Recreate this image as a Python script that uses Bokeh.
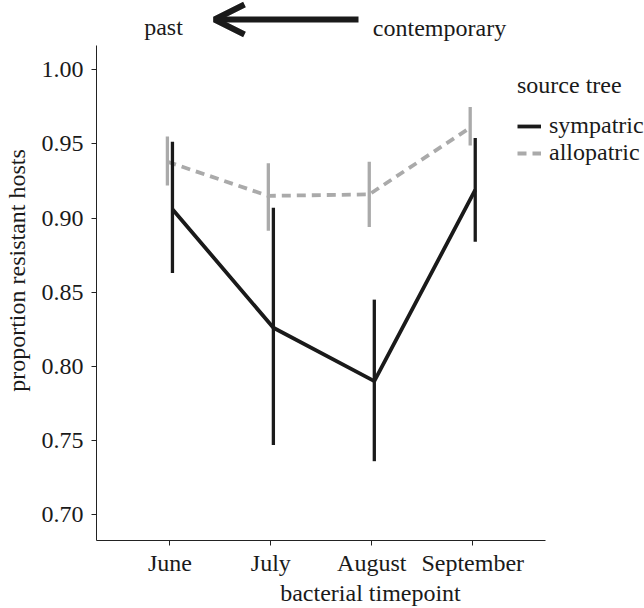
from bokeh.plotting import figure
from bokeh.models import (ColumnDataSource, Legend, LegendItem, Label, Arrow, OpenHead,
                          FixedTicker, NumeralTickFormatter, Range1d)
from bokeh.transform import dodge
from bokeh.embed import file_html
from bokeh.resources import INLINE

# ---- data ----
months = ["June", "July", "August", "September"]
sym_mean = [0.906, 0.826, 0.790, 0.919]
sym_lo = [0.863, 0.747, 0.736, 0.884]
sym_hi = [0.9515, 0.907, 0.845, 0.954]
allo_mean = [0.938, 0.915, 0.916, 0.961]
allo_lo = [0.922, 0.8915, 0.894, 0.949]
allo_hi = [0.955, 0.937, 0.938, 0.975]
y_ticks = [0.70, 0.75, 0.80, 0.85, 0.90, 0.95, 1.00]
series_labels = ["sympatric", "allopatric"]
legend_title = "source tree"
x_title = "bacterial timepoint"
y_title = "proportion resistant hosts"
header_left = "past"
header_right = "contemporary"

x_pos = list(range(1, len(months) + 1))

FONT = "Liberation Serif"
BLACK = "#1a1a1a"
GREY = "#aaaaaa"
TXT = "#1a1a1a"
FS = "24px"

src_sym = ColumnDataSource(dict(x=x_pos, mean=sym_mean, lo=sym_lo, hi=sym_hi))
src_allo = ColumnDataSource(dict(x=x_pos, mean=allo_mean, lo=allo_lo, hi=allo_hi))

p = figure(width=644, height=608, output_backend="svg", toolbar_location=None,
           x_range=Range1d(0.2725, 5.702), y_range=Range1d(0.6825, 1.0468),
           min_border_left=94, min_border_right=0, min_border_top=0, min_border_bottom=66)

p.outline_line_color = None
p.xgrid.grid_line_color = None
p.ygrid.grid_line_color = None
p.background_fill_color = "white"
p.border_fill_color = "white"

DX = 0.025  # dodge between the two series
p.segment(x0=dodge("x", -DX), y0="lo", x1=dodge("x", -DX), y1="hi",
          source=src_allo, line_color=GREY, line_width=3.3)
allo_line = p.line(x=dodge("x", -DX), y="mean", source=src_allo,
                   line_color=GREY, line_width=3.8, line_dash="9 6")
p.segment(x0=dodge("x", DX), y0="lo", x1=dodge("x", DX), y1="hi",
          source=src_sym, line_color=BLACK, line_width=3.3)
sym_line = p.line(x=dodge("x", DX), y="mean", source=src_sym,
                  line_color=BLACK, line_width=3.8)

# axes
for ax in (p.xaxis[0], p.yaxis[0]):
    ax.axis_line_color = "#222222"
    ax.axis_line_width = 1
    ax.major_tick_line_color = "#222222"
    ax.major_tick_out = 5
    ax.major_tick_in = 0
    ax.minor_tick_line_color = None
    ax.major_label_text_font = FONT
    ax.major_label_text_font_size = FS
    ax.major_label_text_color = TXT
    ax.axis_label_text_font = FONT
    ax.axis_label_text_font_size = FS
    ax.axis_label_text_font_style = "normal"
    ax.axis_label_text_color = TXT

p.yaxis.ticker = FixedTicker(ticks=y_ticks)
p.yaxis.formatter = NumeralTickFormatter(format="0.00")
p.yaxis.bounds = (0.6825, 1.0165)
p.yaxis.axis_label = y_title
p.yaxis.major_label_standoff = 8
p.yaxis.axis_label_standoff = 9

p.xaxis.ticker = FixedTicker(ticks=x_pos)
p.xaxis.major_label_overrides = {x: m for x, m in zip(x_pos, months)}
p.xaxis.bounds = (0.2725, 4.7246)
p.xaxis.axis_label = x_title
p.xaxis.major_label_standoff = 4
p.xaxis.axis_label_standoff = 1

# legend
legend = Legend(items=[LegendItem(label=series_labels[0], renderers=[sym_line]),
                       LegendItem(label=series_labels[1], renderers=[allo_line])],
                title=legend_title, location=(421, 374))
legend.title_text_font = FONT
legend.title_text_font_size = FS
legend.title_text_font_style = "normal"
legend.title_text_color = TXT
legend.title_standoff = 13
legend.label_text_font = FONT
legend.label_text_font_size = FS
legend.label_text_color = TXT
legend.label_standoff = 8
legend.glyph_width = 24
legend.glyph_height = 22
legend.label_height = 22
legend.spacing = 0
legend.padding = 0
legend.margin = 0
legend.border_line_color = None
legend.background_fill_alpha = 0
p.add_layout(legend, "center")

# header: past <- contemporary
p.add_layout(Label(x=67, y=514, x_units="screen", y_units="screen", text=header_left,
                   text_font=FONT, text_font_size=FS, text_color=TXT,
                   text_align="center", text_baseline="alphabetic"))
p.add_layout(Label(x=343, y=513, x_units="screen", y_units="screen", text=header_right,
                   text_font=FONT, text_font_size=FS, text_color=TXT,
                   text_align="center", text_baseline="alphabetic"))
p.add_layout(Arrow(end=OpenHead(size=30, line_width=6, line_color=BLACK),
                   x_start=262, y_start=521, x_end=118, y_end=521,
                   start_units="screen", end_units="screen",
                   line_width=6, line_color=BLACK))

open("out.html", "w").write(file_html(p, INLINE))
